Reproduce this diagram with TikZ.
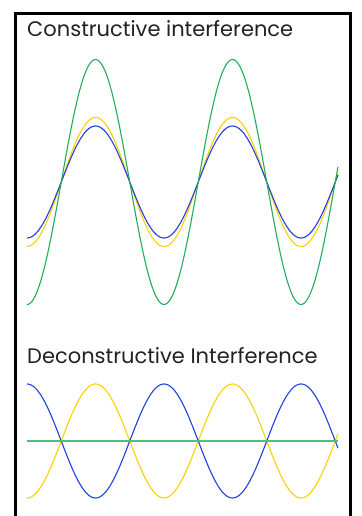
\documentclass[tikz,border=0pt]{standalone}
\usepackage{fontspec}
\setmainfont{Poppins}
\definecolor{wavegreen}{HTML}{1FAE5A}
\definecolor{flatgreen}{HTML}{4DBF7F}
\definecolor{waveyellow}{HTML}{FFD000}
\definecolor{waveblue}{HTML}{2040E0}
\definecolor{titlegray}{HTML}{222222}
\tikzset{
  wave/.style={line width=1.1pt, samples=240, smooth},
  title/.style={font=\fontsize{21}{24}\selectfont, text=titlegray, anchor=base west, inner sep=0pt}
}
\begin{document}
\begin{tikzpicture}[x=1pt, y=-1pt]
  \useasboundingbox (0,0) rectangle (361,516);
  \draw[line width=3pt] (15.5,530) -- (15.5,14) -- (350,14) -- (350,530);
  % constructive
  \node[title] (cons) at (27,37) {Constructive interference};
  \draw[wave, waveyellow] plot[domain=27:338] (\x, {182 + 64.5*cos((\x-27)/137*360)});
  \draw[wave, waveblue] plot[domain=27:338] (\x, {182 + 56*cos((\x-27)/137*360)});
  \draw[wave, wavegreen] plot[domain=27:338] (\x, {182 + 122.5*cos((\x-27)/137*360)});
  % destructive
  \node[title] (decons) at (27,363) {Deconstructive Interference};
  \draw[wave, waveyellow] plot[domain=27:338] (\x, {441 + 57*cos((\x-27)/137*360)});
  \draw[wave, waveblue] plot[domain=27:338] (\x, {441 - 57*cos((\x-27)/137*360)});
  \draw[line width=1.6pt, flatgreen] (27,441) -- (338,441);
\end{tikzpicture}
\end{document}
